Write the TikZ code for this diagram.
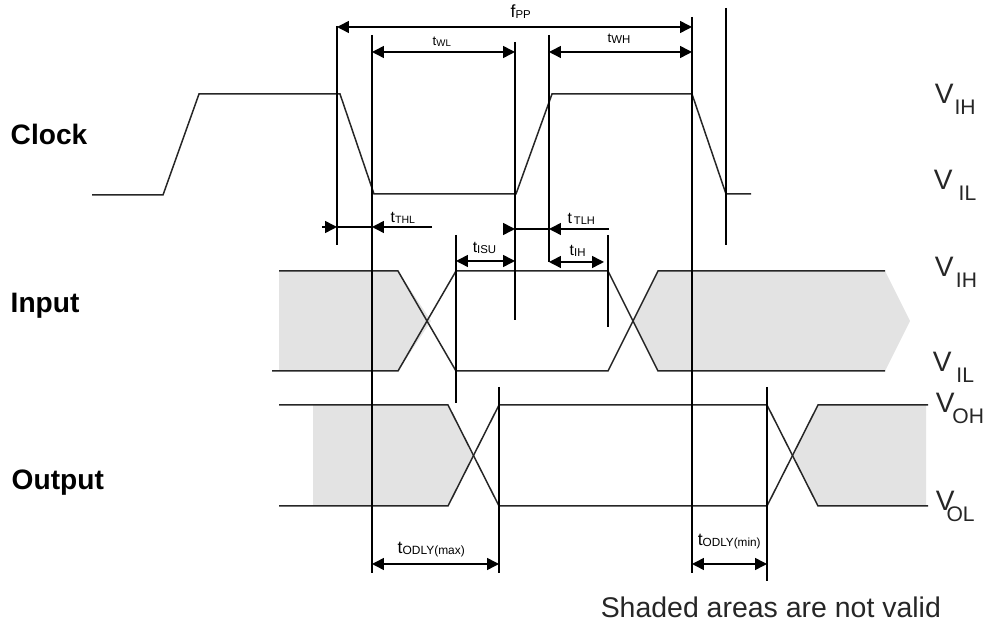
\documentclass[tikz,border=0pt]{standalone}
\usepackage{fontspec}
\setmainfont{Liberation Sans}
\usetikzlibrary{arrows.meta}

\newcommand{\tsub}[3][5.5]{#2\raisebox{-0.5pt}{\fontsize{#1}{#1}\selectfont #3}}
\newcommand{\vsub}[2]{V\kern#1pt\raisebox{-6.2pt}{\fontsize{12}{12}\selectfont #2}}

\begin{document}
\begin{tikzpicture}[x=0.02cm,y=-0.02cm,
  >={Triangle[length=6.8pt,width=6.8pt]},
  line width=0.85pt,
  shade/.style={fill=black!11,draw=none},
  edge/.style={line width=0.85pt,black!85},
  guide/.style={line width=0.9pt},
  timing/.style={font=\fontsize{7.5}{8}\selectfont,inner sep=0pt,anchor=base west},
  level/.style={font=\fontsize{16}{16}\selectfont,inner sep=0pt,anchor=base west,text=black!85},
  signal/.style={font=\fontsize{16}{16}\selectfont\bfseries,inner sep=0pt,anchor=base west}]
\useasboundingbox (0,0) rectangle (985,624);

\fill [shade] (279,271) -- (398,271) -- (431,321) -- (398,371) -- (279,371) -- cycle;
\fill [shade] (633,321) -- (658,271) -- (885,271) -- (910,321) -- (885,371) -- (658,371) -- cycle;
\fill [shade] (313,405) -- (448,405) -- (472.5,456) -- (448,506) -- (313,506) -- cycle;
\fill [shade] (792,456) -- (818,405) -- (926,405) -- (926,506) -- (818,506) -- cycle;

\draw [edge] (92,195) -- (163,195) -- (199,94) -- (340,94) -- (374,194) -- (516,194) -- (552,94) -- (692,94) -- (726,194) -- (751,194);
\draw [edge] (279,271) -- (398,271) -- (456,371) -- (608,371) -- (658,271) -- (885,271);
\draw [edge] (272,371) -- (398,371) -- (456,271) -- (608,271) -- (658,371) -- (885,371);
\draw [edge] (279,405) -- (448,405) -- (499,506) -- (767,506) -- (818,405) -- (928,405);
\draw [edge] (279,506) -- (448,506) -- (499,405) -- (767,405) -- (818,506) -- (928,506);

\path (337,26) coordinate (fppTop);
\path (337,245) coordinate (fppBot);
\path (372,35) coordinate (wlTop);
\path (372,573) coordinate (wlBot);
\path (515,42) coordinate (wlendTop);
\path (515,320) coordinate (wlendBot);
\path (549,35) coordinate (whTop);
\path (549,262) coordinate (whBot);
\path (692,17) coordinate (whendTop);
\path (692,573) coordinate (whendBot);
\path (726,8) coordinate (fallTop);
\path (726,245) coordinate (fallBot);
\path (456,235) coordinate (isuTop);
\path (456,403) coordinate (isuBot);
\path (608,235) coordinate (ihTop);
\path (608,327) coordinate (ihBot);
\path (499,387) coordinate (maxTop);
\path (499,573) coordinate (maxBot);
\path (767,387) coordinate (minTop);
\path (767,581) coordinate (minBot);

\draw [guide] (fppTop) to (fppBot);
\draw [guide] (wlTop) to (wlBot);
\draw [guide] (wlendTop) to (wlendBot);
\draw [guide] (whTop) to (whBot);
\draw [guide] (whendTop) to (whendBot);
\draw [guide] (fallTop) to (fallBot);
\draw [guide] (isuTop) to (isuBot);
\draw [guide] (ihTop) to (ihBot);
\draw [guide] (maxTop) to (maxBot);
\draw [guide] (minTop) to (minBot);

\path (337,27) coordinate (fppL);
\path (692,27) coordinate (fppR);
\path (372,52) coordinate (wlL);
\path (515,52) coordinate (wlR);
\path (549,52) coordinate (whL);
\path (692,52) coordinate (whR);
\path (322,227) coordinate (thlA);
\path (337,227) coordinate (thlB);
\path (372,227) coordinate (thlC);
\path (432,227) coordinate (thlD);
\path (503,229) coordinate (tlhA);
\path (515,229) coordinate (tlhB);
\path (549,229) coordinate (tlhC);
\path (609,229) coordinate (tlhD);
\path (456,261) coordinate (isuL);
\path (515,261) coordinate (isuR);
\path (549,262) coordinate (ihL);
\path (604,262) coordinate (ihR);
\path (372,564) coordinate (maxL);
\path (499,564) coordinate (maxR);
\path (692,564) coordinate (minL);
\path (767,564) coordinate (minR);

\draw [<->] (fppL) to (fppR);
\draw [<->] (wlL) to (wlR);
\draw [<->] (whL) to (whR);
\draw [->] (thlA) to (thlB);
\draw [->] (thlD) to (thlC);
\draw (thlB) to (thlC);
\draw [->] (tlhA) to (tlhB);
\draw [->] (tlhD) to (tlhC);
\draw (tlhB) to (tlhC);
\draw [<->] (isuL) to (isuR);
\draw [<->] (ihL) to (ihR);
\draw [<->] (maxL) to (maxR);
\draw [<->] (minL) to (minR);

\path (510,18) node (fpp) [timing,font=\fontsize{10}{10}\selectfont] {\tsub[6.5]{f}{PP}};
\path (432,46) node (twl) [timing] {\tsub{t}{WL}};
\path (607,43) node (twh) [timing] {\tsub[6.5]{t}{WH}};
\path (390,223) node (tthl) [timing,font=\fontsize{9}{9}\selectfont] {\tsub[6]{t}{THL}};
\path (567,224) node (ttlh) [timing,font=\fontsize{9}{9}\selectfont] {\tsub[6.3]{t}{\,TLH}};
\path (472,253) node (tisu) [timing,font=\fontsize{9}{9}\selectfont] {\tsub[6.5]{t}{ISU}};
\path (569,256) node (tih) [timing,font=\fontsize{9}{9}\selectfont] {\tsub[6.5]{t}{IH}};
\path (397,554) node (tmax) [timing,font=\fontsize{10}{10}\selectfont] {\tsub[6.8]{t}{ODLY(max)}};
\path (697,546) node (tmin) [timing,font=\fontsize{10}{10}\selectfont] {\tsub[6.7]{t}{ODLY(min)}};

\path (934,104) node (vihclk) [level] {\vsub{0.6}{IH}};
\path (933,190) node (vilclk) [level] {\vsub{3.5}{IL}};
\path (934,277) node (vihin) [level] {\vsub{1.4}{IH}};
\path (932,372) node (vilin) [level] {\vsub{2.8}{IL}};
\path (935,413) node (voh) [level] {\vsub{-1.2}{OH}};
\path (935,511) node (vol) [level] {\vsub{-4.5}{OL}};

\path (10,145) node (clock) [signal] {Clock};
\path (10,313) node (input) [signal] {Input};
\path (11,490) node (output) [signal] {Output};

\path (600,618) node (note) [level,font=\fontsize{16.2}{16.2}\selectfont] {Shaded areas are not valid};
\end{tikzpicture}
\end{document}
